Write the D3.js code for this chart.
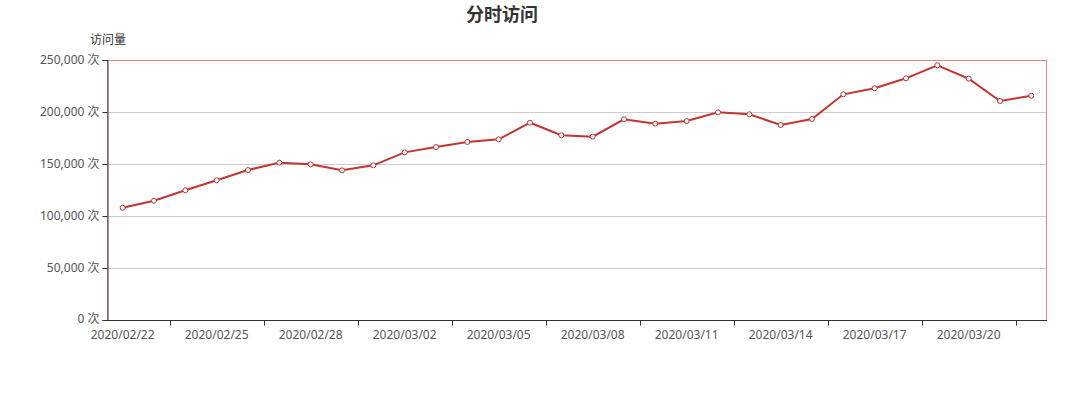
<!DOCTYPE html>
<html><head><meta charset="utf-8">
<script src="https://cdn.jsdelivr.net/npm/d3@7"></script>
<style>body{margin:0;background:#fff}svg{display:block}</style>
</head><body>
<svg id="c" width="1077" height="400"></svg>
<script>
const dates = ["2020/02/22","2020/02/23","2020/02/24","2020/02/25","2020/02/26","2020/02/27","2020/02/28","2020/02/29","2020/03/01","2020/03/02","2020/03/03","2020/03/04","2020/03/05","2020/03/06","2020/03/07","2020/03/08","2020/03/09","2020/03/10","2020/03/11","2020/03/12","2020/03/13","2020/03/14","2020/03/15","2020/03/16","2020/03/17","2020/03/18","2020/03/19","2020/03/20","2020/03/21","2020/03/22"];
const visits = [107900,114700,124700,134400,144200,151300,149700,143900,148700,161200,166300,171200,173700,189700,177600,176300,193000,188800,191300,199700,197800,187500,193300,217000,222800,232400,244900,232100,210600,215700];
const yTicks = [0,50000,100000,150000,200000,250000];
const titleText = "分时访问";
const yName = "访问量";

const font = "'Microsoft YaHei','Noto Sans CJK SC',sans-serif";
const numFont = "'Noto Sans','Noto Sans CJK SC',sans-serif";
const svg = d3.select("#c");
const L=107,R=1047,T=60,B=320;
const x = d3.scaleBand().domain(dates).range([L,R]);
const y = d3.scaleLinear().domain([0,250000]).range([B,T]);

svg.append("text").attr("x",502).attr("y",13).attr("text-anchor","middle").attr("dominant-baseline","central")
  .attr("font-family",font).attr("font-size",18).attr("font-weight","bold").attr("fill","#333").text(titleText);
svg.append("text").attr("x",108).attr("y",38).attr("text-anchor","middle").attr("dominant-baseline","central")
  .attr("font-family",font).attr("font-size",12).attr("fill","#333").text(yName);

// grid lines
svg.append("g").selectAll("line").data(yTicks.slice(1)).join("line")
  .attr("x1",L).attr("x2",R).attr("y1",d=>y(d)+0.5).attr("y2",d=>y(d)+0.5)
  .attr("stroke","#ccc").attr("stroke-width",1);
// grid border
svg.append("rect").attr("x",L+0.5).attr("y",T+0.5).attr("width",R-L-1).attr("height",B-T)
  .attr("fill","none").attr("stroke","#dc8a87").attr("stroke-width",1);

// y axis
const yAxis = d3.axisLeft(y).tickValues(yTicks).tickSize(5).tickPadding(3)
  .tickFormat(d=>d3.format(",")(d)+" 次");
const gy = svg.append("g").attr("transform",`translate(${L+0.5},0)`).call(yAxis);
gy.select(".domain").attr("stroke","#4a2f2f");
gy.selectAll(".tick line").attr("stroke","#333");
gy.selectAll(".tick text").attr("font-family",numFont).attr("font-size",12).attr("fill","#555")
  .attr("dy", d => d === 0 ? "0.2em" : "0.32em");

// x axis
const gx = svg.append("g").attr("transform",`translate(0,${B+0.5})`);
gx.append("line").attr("x1",L).attr("x2",R).attr("stroke","#333");
const tickIdx = d3.range(2,dates.length,3);
gx.selectAll(".tk").data(tickIdx).join("line").attr("class","tk")
  .attr("x1",i=>Math.round(x(dates[i]))+0.5).attr("x2",i=>Math.round(x(dates[i]))+0.5).attr("y1",0).attr("y2",5).attr("stroke","#333");
const labIdx = d3.range(0,dates.length,3);
gx.selectAll(".lb").data(labIdx).join("text").attr("class","lb")
  .attr("x",i=>x(dates[i])+x.bandwidth()/2).attr("y",13.5).attr("text-anchor","middle").attr("dominant-baseline","central")
  .attr("font-family",numFont).attr("font-size",12).attr("fill","#555").text(i=>dates[i]);

// line
const cx = d=>x(d)+x.bandwidth()/2;
svg.append("path").datum(visits).attr("fill","none").attr("stroke","#c23531").attr("stroke-width",2)
  .attr("d",d3.line().x((v,i)=>cx(dates[i])).y(v=>y(v)));
svg.append("g").selectAll("circle").data(visits).join("circle")
  .attr("cx",(v,i)=>cx(dates[i])).attr("cy",v=>y(v)).attr("r",2.5)
  .attr("fill","#fff").attr("stroke","#c23531").attr("stroke-width",1);
</script>
</body></html>
